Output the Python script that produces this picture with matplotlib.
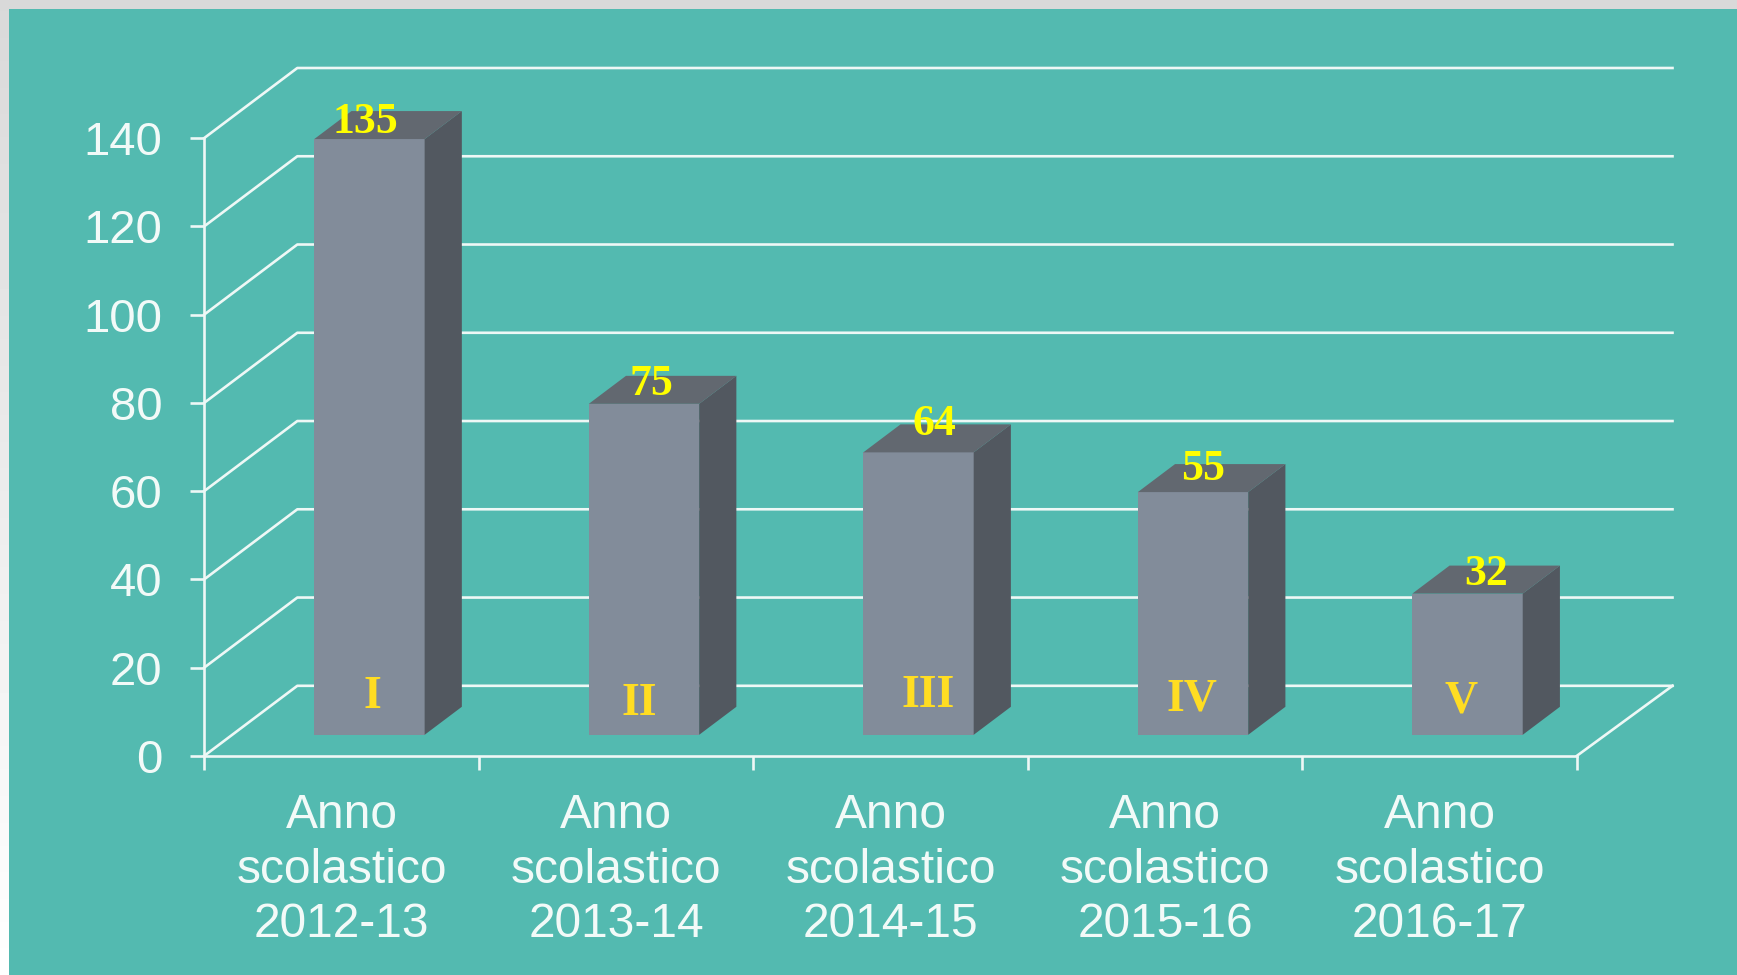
import matplotlib
matplotlib.use("Agg")
import matplotlib.pyplot as plt
import numpy as np
from matplotlib.patches import Rectangle

categories = ["Anno\nscolastico\n2012-13", "Anno\nscolastico\n2013-14", "Anno\nscolastico\n2014-15",
              "Anno\nscolastico\n2015-16", "Anno\nscolastico\n2016-17"]
values = [135, 75, 64, 55, 32]
classes = ["I", "II", "III", "IV", "V"]
y_ticks = [0, 20, 40, 60, 80, 100, 120, 140]

W, H = 1737, 975
TEAL = "#53BAB0"
LINE = "#EEF8F6"
TEXT = "#F2FAF8"
FRONT = "#828C9A"
SIDE = "#525860"
TOP = "#626870"

# the chart box in pixels: x 0..5 and y 0..140 land on these
X0, X1, Y0, Y1 = 204.3, 1576.9, 755.8, 138.0
# how far the floor goes back, in data units
DEPTH_X = 93 / ((X1 - X0) / 5)
DEPTH_Y = 70 / ((Y0 - Y1) / 140)
BAR_W = 0.402

# hand placed labels, offsets in pixels from the bar
value_nudge = [(-4, 6), (7, 8.5), (16, 17), (10, 12), (19, 9)]
class_nudge = [(3, 27), (-5, 20), (10, 28), (-1, 24), (-6, 22)]

fig = plt.figure(figsize=(W / 100, H / 100), dpi=100)

# grey border with the fade on the left, then the teal plate
bg = fig.add_axes([0, 0, 1, 1], zorder=0)
bg.imshow(np.linspace(0.85, 1.0, 256).reshape(-1, 1), cmap="gray", vmin=0, vmax=1,
          extent=[0, W, H, 0], aspect="auto")
bg.add_patch(Rectangle((9, 9), W - 9, H - 9, color=TEAL, lw=0))
bg.set_xlim(0, W)
bg.set_ylim(H, 0)
bg.axis("off")

ax = fig.add_axes([X0 / W, 1 - Y0 / H, (X1 - X0) / W, (Y0 - Y1) / H], zorder=1)
ax.patch.set_alpha(0)
ax.set_xlim(0, len(values))
ax.set_ylim(0, 140)

# wall and floor lines
right_back = len(values) + 95.6 / ((X1 - X0) / 5)
for t in y_ticks:
    ax.plot([0, DEPTH_X, right_back], [t, t + DEPTH_Y, t + DEPTH_Y], color=LINE, lw=1.9,
            clip_on=False, zorder=1)
ax.plot([len(values), right_back], [0, DEPTH_Y], color=LINE, lw=1.9, clip_on=False, zorder=1)

# the bars, front face through ax.bar and the two other faces on top of it
centers = np.arange(len(values)) + 0.5
d_near, d_far = 0.3, 0.7
bottom = d_near * DEPTH_Y
lefts = centers - BAR_W / 2 + d_near * DEPTH_X
ax.bar(lefts + BAR_W / 2, values, BAR_W, bottom=bottom, color=FRONT, zorder=3, clip_on=False)
step_x = (d_far - d_near) * DEPTH_X
step_y = (d_far - d_near) * DEPTH_Y
for left, v in zip(lefts, values):
    right = left + BAR_W
    ax.fill([right, right + step_x, right + step_x, right],
            [bottom, bottom + step_y, bottom + v + step_y, bottom + v],
            color=SIDE, lw=0, zorder=3, clip_on=False)
    ax.fill([left, left + step_x, right + step_x, right],
            [bottom + v, bottom + v + step_y, bottom + v + step_y, bottom + v],
            color=TOP, lw=0, zorder=3, clip_on=False)

for i, v in enumerate(values):
    ax.annotate(str(v), (lefts[i] + BAR_W / 2, bottom + v), xytext=value_nudge[i],
                textcoords="offset pixels", ha="center", va="baseline", color="#FFFF00",
                fontsize=31.5, family="Liberation Serif", weight="bold", zorder=5,
                annotation_clip=False)
    ax.annotate(classes[i], (lefts[i] + BAR_W / 2, bottom), xytext=class_nudge[i],
                textcoords="offset pixels", ha="center", va="baseline", color="#FFDD22",
                fontsize=33, family="Liberation Serif", weight="bold", zorder=5,
                annotation_clip=False)

# axes
for name in ["top", "right"]:
    ax.spines[name].set_visible(False)
for name in ["left", "bottom"]:
    ax.spines[name].set_color(LINE)
    ax.spines[name].set_linewidth(1.9)
ax.set_yticks(y_ticks)
ax.set_yticklabels([str(t) for t in y_ticks], fontsize=34, color=TEXT, family="Liberation Sans")
ax.tick_params(axis="y", length=10, width=1.9, color=LINE, pad=20)
ax.set_xticks(range(len(values) + 1))
ax.set_xticklabels([])
ax.tick_params(axis="x", which="major", length=10, width=1.9, color=LINE)
ax.set_xticks(centers, minor=True)
ax.set_xticklabels(categories, minor=True, fontsize=34.5, color=TEXT, family="Liberation Sans",
                   linespacing=1.27)
ax.tick_params(axis="x", which="minor", length=0, pad=27)

fig.savefig("out.png", dpi=100)
plt.close()
